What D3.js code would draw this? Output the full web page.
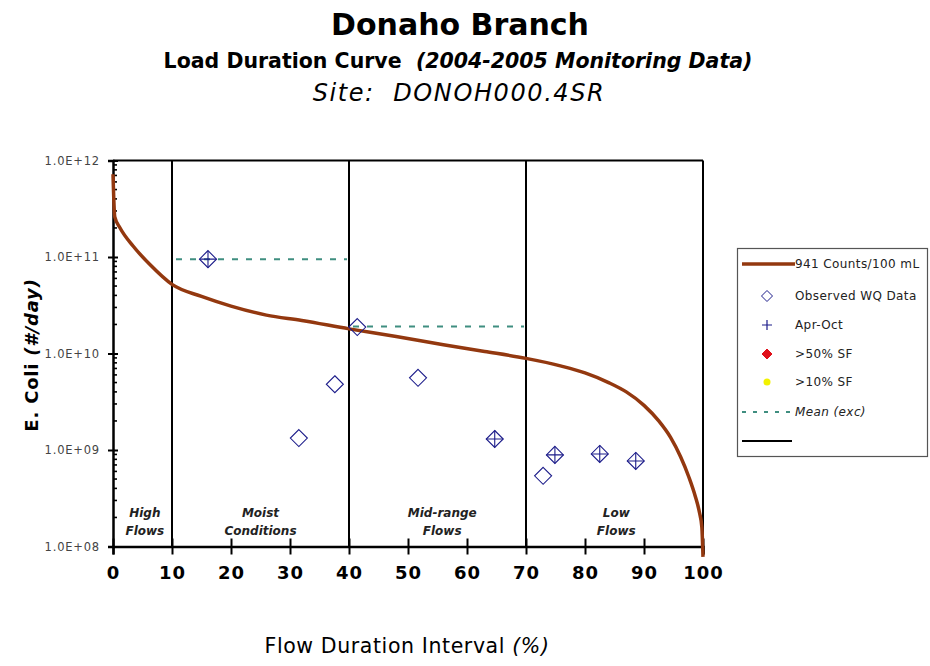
<!DOCTYPE html>
<html>
<head>
<meta charset="utf-8">
<script src="https://cdn.jsdelivr.net/npm/d3@7"></script>
<style>
  html, body { margin: 0; padding: 0; background: #fff; }
  svg { display: block; }
</style>
</head>
<body>
<svg id="chart" width="930" height="666"></svg>
<script>
// ---------- DATA ----------
const curvePct  = [0, 0.3, 1.2, 3.4, 6.3, 10, 15, 20, 26, 32, 40, 48, 56, 63, 70, 76, 80, 84, 87, 90, 92.5, 94.5, 96.2, 97.6, 98.7, 99.4, 99.8, 100];
const curveLoad = [7.2e11, 2.6e11, 2.0e11, 1.3e11, 8.3e10, 5.2e10, 3.9e10, 3.1e10, 2.5e10, 2.2e10, 1.8e10, 1.5e10, 1.23e10, 1.05e10, 8.9e9, 7.4e9, 6.3e9, 5.0e9, 4.0e9, 2.9e9, 2.0e9, 1.35e9, 8.5e8, 5.25e8, 3.3e8, 2.25e8, 1.6e8, 7.8e7];

const obsPct    = [16.1, 41.4, 31.5, 37.6, 51.7, 64.7, 72.9, 74.9, 82.5, 88.6];
const obsLoad   = [9.5e10, 1.88e10, 1.33e9, 4.8e9, 5.6e9, 1.3e9, 5.4e8, 8.9e8, 9.1e8, 7.7e8];
const obsAprOct = [true, false, false, false, false, true, false, true, true, true];

const meanStart = [10, 40];
const meanEnd   = [40, 70];
const meanLoad  = [9.5e10, 1.9e10];

const zoneBounds = [10, 40, 70, 100];
const zoneLabelPct = [5.4, 25.0, 55.8, 85.3];
const zoneLabels = [["High", "Flows"], ["Moist", "Conditions"], ["Mid-range", "Flows"], ["Low", "Flows"]];

const xTicks = [0, 10, 20, 30, 40, 50, 60, 70, 80, 90, 100];
const yMajorTicks = [1e8, 1e9, 1e10, 1e11, 1e12];
const yTickLabels = ["1.0E+08", "1.0E+09", "1.0E+10", "1.0E+11", "1.0E+12"];

const legendLabels = ["941 Counts/100 mL", "Observed WQ Data", "Apr-Oct", ">50% SF", ">10% SF", "Mean (exc)", ""];

// ---------- LAYOUT ----------
const svg = d3.select("#chart");
const X0 = 113, X1 = 703, Y0 = 546.5, Y1 = 160.5;
const x = d3.scaleLinear().domain([0, 100]).range([X0, X1]);
const y = d3.scaleLog().domain([1e8, 1e12]).range([Y0, Y1]);

const navy = "#1c1c8a";
const brown = "#93380f";
const teal = "#3f8e80";
const font = "'DejaVu Sans', Verdana, sans-serif";

// ---------- TITLES ----------
svg.append("text").attr("x", 460).attr("y", 35).attr("text-anchor", "middle")
  .attr("font-family", font).attr("font-weight", "bold").attr("font-size", 30)
  .text("Donaho Branch");
const sub = svg.append("text").attr("x", 458).attr("y", 68).attr("text-anchor", "middle")
  .attr("font-family", font).attr("font-weight", "bold").attr("font-size", 20.5)
  .attr("xml:space", "preserve");
sub.append("tspan").text("Load Duration Curve  ");
sub.append("tspan").attr("font-style", "italic").text("(2004-2005 Monitoring Data)");
svg.append("text").attr("x", 459).attr("y", 101).attr("text-anchor", "middle")
  .attr("font-family", font).attr("font-style", "italic").attr("font-size", 24)
  .attr("letter-spacing", 1.6).attr("xml:space", "preserve")
  .text("Site:  DONOH000.4SR");

// ---------- FRAME / ZONES ----------
const g = svg.append("g");
g.append("line").attr("x1", x(0)).attr("x2", x(100)).attr("y1", y(1e12)).attr("y2", y(1e12))
  .attr("stroke", "#000").attr("stroke-width", 2);
g.selectAll("line.zone").data(zoneBounds).join("line").attr("class", "zone")
  .attr("x1", d => x(d)).attr("x2", d => x(d)).attr("y1", y(1e12)).attr("y2", y(1e8))
  .attr("stroke", "#000").attr("stroke-width", 2);

zoneLabels.forEach((lines, i) => {
  lines.forEach((t, j) => {
    g.append("text").attr("x", x(zoneLabelPct[i])).attr("y", 517 + j * 18)
      .attr("text-anchor", "middle").attr("font-family", font)
      .attr("font-style", "italic").attr("font-weight", "bold").attr("font-size", 12)
      .attr("fill", "#222").text(t);
  });
});

// ---------- AXES ----------
const xAxis = d3.axisBottom(x).tickValues(xTicks).tickSize(8).tickFormat(d => d);
const gx = svg.append("g").attr("transform", `translate(0,${Y0})`).call(xAxis);
gx.select(".domain").attr("stroke", "#000").attr("stroke-width", 2.5);
gx.selectAll(".tick line").attr("y1", -8).attr("y2", 8).attr("stroke", "#000").attr("stroke-width", 2);
gx.selectAll(".tick text").attr("y", 20).attr("dy", "0.71em")
  .attr("font-family", font).attr("font-weight", "bold").attr("font-size", 18)
  .attr("letter-spacing", 1).attr("fill", "#000");

const yAxis = d3.axisLeft(y).tickValues(yMajorTicks).tickSize(5)
  .tickFormat((d, i) => yTickLabels[i]);
const gy = svg.append("g").attr("transform", `translate(${X0},0)`).call(yAxis);
gy.select(".domain").attr("stroke", "#000").attr("stroke-width", 2.5);
gy.selectAll(".tick line").attr("x1", -5).attr("x2", 5).attr("stroke", "#000").attr("stroke-width", 2);
gy.selectAll(".tick text").attr("x", -13)
  .attr("font-family", font).attr("font-size", 11.5).attr("letter-spacing", 0.8).attr("fill", "#444");

const minor = [];
for (let e = 8; e < 12; e++) for (let m = 2; m <= 9; m++) minor.push(m * Math.pow(10, e));
svg.append("g").selectAll("line").data(minor).join("line")
  .attr("x1", X0).attr("x2", X0 + 4).attr("y1", d => y(d)).attr("y2", d => y(d))
  .attr("stroke", "#000").attr("stroke-width", 1.6);

const xt = svg.append("text").attr("x", 407).attr("y", 653).attr("text-anchor", "middle")
  .attr("font-family", font).attr("font-size", 20.5).attr("letter-spacing", 0.6)
  .attr("xml:space", "preserve");
xt.append("tspan").text("Flow Duration Interval ");
xt.append("tspan").attr("font-style", "italic").text("(%)");

const yt = svg.append("text").attr("transform", "translate(38,355) rotate(-90)").attr("text-anchor", "middle")
  .attr("font-family", font).attr("font-weight", "bold").attr("font-size", 18)
  .attr("letter-spacing", 0.8).attr("xml:space", "preserve");
yt.append("tspan").text("E. Coli ");
yt.append("tspan").attr("font-style", "italic").text("(#/day)");

// ---------- MEAN LINES ----------
svg.append("g").selectAll("line").data(meanLoad).join("line")
  .attr("x1", (d, i) => x(meanStart[i]) + 4).attr("x2", (d, i) => x(meanEnd[i]) - 2)
  .attr("y1", d => y(d)).attr("y2", d => y(d))
  .attr("stroke", teal).attr("stroke-width", 2).attr("stroke-dasharray", "6,8");

// ---------- CURVE ----------
const curveData = curvePct.map((p, i) => [p, curveLoad[i]]);
svg.append("path").datum(curveData)
  .attr("d", d3.line().x(d => x(d[0])).y(d => y(d[1])).curve(d3.curveMonotoneX))
  .attr("fill", "none").attr("stroke", brown).attr("stroke-width", 3.5);

// ---------- OBSERVED POINTS ----------
const diamond = (cx, cy, r) => `M${cx},${cy - r}L${cx + r},${cy}L${cx},${cy + r}L${cx - r},${cy}Z`;
const pts = svg.append("g");
obsPct.forEach((p, i) => {
  const cx = x(p), cy = y(obsLoad[i]);
  pts.append("path").attr("d", diamond(cx, cy, 8.5)).attr("fill", "none")
    .attr("stroke", navy).attr("stroke-width", 1.1);
  if (obsAprOct[i]) {
    pts.append("path").attr("d", `M${cx - 8.5},${cy}H${cx + 8.5}M${cx},${cy - 8.5}V${cy + 8.5}`)
      .attr("stroke", navy).attr("stroke-width", 1.1);
  }
});

// ---------- LEGEND ----------
const L = svg.append("g");
L.append("rect").attr("x", 737.5).attr("y", 248.5).attr("width", 190).attr("height", 208)
  .attr("fill", "#fff").attr("stroke", "#555").attr("stroke-width", 1.2);
const rowY = [264, 296, 325, 354, 382, 412, 441];
const textX = 795, symX = 767;
L.append("line").attr("x1", 742).attr("x2", 795).attr("y1", rowY[0]).attr("y2", rowY[0])
  .attr("stroke", brown).attr("stroke-width", 3.5);
L.append("path").attr("d", diamond(symX, rowY[1], 5.5)).attr("fill", "none").attr("stroke", navy).attr("stroke-width", 1);
L.append("path").attr("d", `M${symX - 5},${rowY[2]}H${symX + 5}M${symX},${rowY[2] - 5}V${rowY[2] + 5}`)
  .attr("stroke", navy).attr("stroke-width", 1.2);
L.append("path").attr("d", diamond(symX, rowY[3], 5)).attr("fill", "#e0101a").attr("stroke", "#e0101a");
L.append("circle").attr("cx", symX).attr("cy", rowY[4]).attr("r", 3.5).attr("fill", "#f2f200");
L.append("line").attr("x1", 742).attr("x2", 790).attr("y1", rowY[5]).attr("y2", rowY[5])
  .attr("stroke", teal).attr("stroke-width", 2).attr("stroke-dasharray", "4,7");
L.append("line").attr("x1", 742).attr("x2", 792).attr("y1", rowY[6]).attr("y2", rowY[6])
  .attr("stroke", "#000").attr("stroke-width", 2);
legendLabels.forEach((t, i) => {
  if (!t) return;
  L.append("text").attr("x", textX).attr("y", rowY[i]).attr("dy", "0.35em")
    .attr("font-family", font).attr("font-size", 12).attr("letter-spacing", 0.4).attr("fill", "#222")
    .attr("font-style", i === 5 ? "italic" : "normal").text(t);
});
</script>
</body>
</html>
